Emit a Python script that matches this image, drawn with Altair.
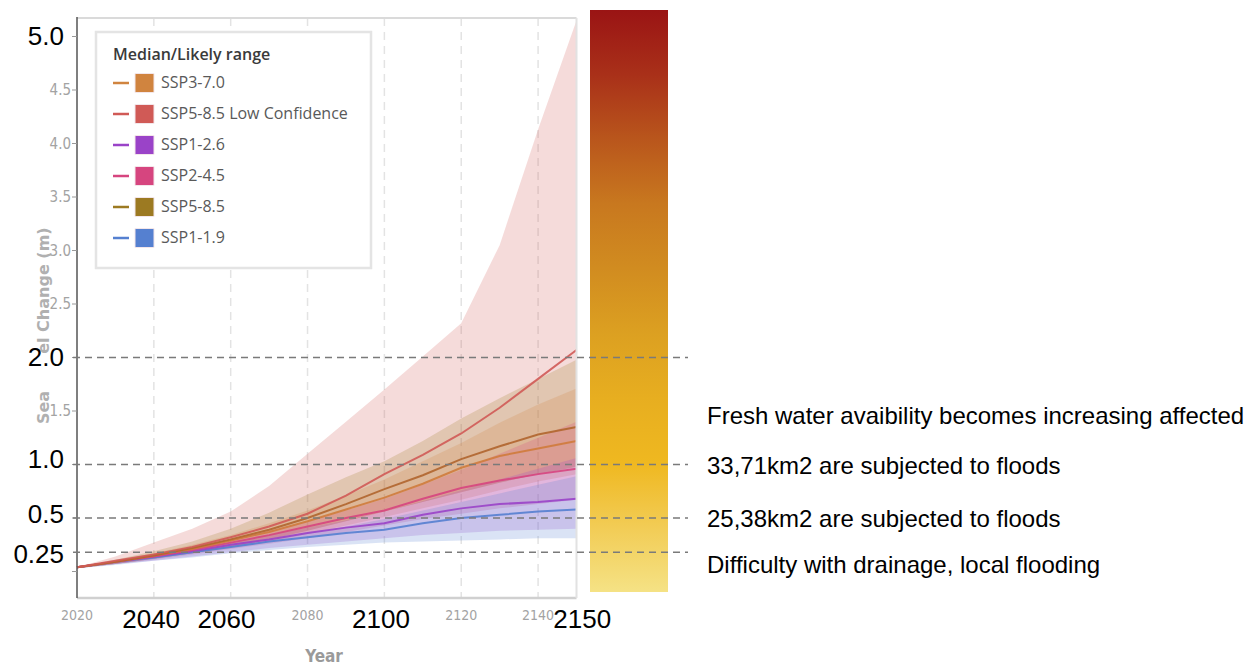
import altair as alt
import pandas as pd

# ---------------- data ----------------
years = [2020, 2030, 2040, 2050, 2060, 2070, 2080, 2090, 2100, 2110, 2120, 2130, 2140, 2150]

legend_names = ["SSP3-7.0", "SSP5-8.5 Low Confidence", "SSP1-2.6", "SSP2-4.5", "SSP5-8.5", "SSP1-1.9"]
legend_colors = ["#d0843f", "#d05a56", "#9a43c8", "#d6457f", "#9c7a22", "#5580d0"]

# medians (m)
med_ssp585lc = [0.04, 0.10, 0.16, 0.23, 0.32, 0.42, 0.54, 0.71, 0.91, 1.09, 1.29, 1.53, 1.80, 2.07]
med_ssp585 = [0.04, 0.09, 0.15, 0.22, 0.30, 0.39, 0.50, 0.63, 0.77, 0.90, 1.05, 1.17, 1.28, 1.35]
med_ssp370 = [0.04, 0.09, 0.15, 0.21, 0.29, 0.37, 0.47, 0.58, 0.69, 0.82, 0.97, 1.08, 1.15, 1.22]
med_ssp245 = [0.04, 0.09, 0.14, 0.20, 0.27, 0.34, 0.42, 0.50, 0.57, 0.68, 0.78, 0.85, 0.91, 0.96]
med_ssp126 = [0.04, 0.09, 0.14, 0.19, 0.25, 0.30, 0.36, 0.41, 0.45, 0.53, 0.59, 0.63, 0.65, 0.68]
med_ssp119 = [0.04, 0.09, 0.13, 0.18, 0.23, 0.28, 0.32, 0.36, 0.39, 0.45, 0.50, 0.53, 0.56, 0.58]

# likely ranges (m)
lo_ssp585lc = [0.03, 0.07, 0.12, 0.17, 0.23, 0.30, 0.38, 0.47, 0.56, 0.65, 0.74, 0.83, 0.91, 0.98]
hi_ssp585lc = [0.04, 0.14, 0.27, 0.40, 0.56, 0.80, 1.10, 1.40, 1.70, 2.01, 2.32, 3.05, 4.13, 5.15]
lo_ssp585 = [0.03, 0.07, 0.12, 0.17, 0.23, 0.30, 0.38, 0.47, 0.56, 0.65, 0.74, 0.83, 0.91, 0.98]
hi_ssp585 = [0.04, 0.11, 0.19, 0.28, 0.40, 0.55, 0.72, 0.88, 1.03, 1.22, 1.43, 1.62, 1.80, 1.98]
lo_ssp370 = [0.03, 0.07, 0.12, 0.17, 0.22, 0.28, 0.35, 0.43, 0.51, 0.59, 0.67, 0.76, 0.84, 0.91]
hi_ssp370 = [0.04, 0.10, 0.17, 0.25, 0.34, 0.45, 0.57, 0.71, 0.86, 1.03, 1.20, 1.39, 1.56, 1.71]
lo_ssp245 = [0.03, 0.07, 0.11, 0.16, 0.21, 0.26, 0.31, 0.37, 0.43, 0.49, 0.54, 0.59, 0.63, 0.67]
hi_ssp245 = [0.04, 0.10, 0.16, 0.22, 0.30, 0.38, 0.47, 0.57, 0.68, 0.81, 0.95, 1.10, 1.25, 1.40]
lo_ssp126 = [0.03, 0.07, 0.10, 0.14, 0.18, 0.22, 0.25, 0.28, 0.31, 0.34, 0.36, 0.38, 0.39, 0.40]
hi_ssp126 = [0.04, 0.09, 0.15, 0.21, 0.27, 0.34, 0.41, 0.48, 0.56, 0.66, 0.76, 0.86, 0.96, 1.06]
lo_ssp119 = [0.03, 0.06, 0.10, 0.13, 0.17, 0.20, 0.23, 0.25, 0.27, 0.28, 0.29, 0.30, 0.31, 0.31]
hi_ssp119 = [0.04, 0.09, 0.14, 0.19, 0.25, 0.30, 0.36, 0.42, 0.49, 0.57, 0.65, 0.73, 0.81, 0.89]

# axis tick labels
small_y_ticks = [1.5, 2.5, 3.0, 3.5, 4.0, 4.5]
small_y_labels = ["1.5", "2.5", "3.0", "3.5", "4.0", "4.5"]
all_y_ticks = [0.0, 0.5, 1.0, 1.5, 2.0, 2.5, 3.0, 3.5, 4.0, 4.5, 5.0]
small_x_ticks = [2020, 2080, 2120, 2140]
small_x_labels = ["2020", "2080", "2120", "2140"]
grid_years = [2040, 2060, 2080, 2100, 2120, 2140]

# overlay annotations
big_y_labels = ["5.0", "2.0", "1.0", "0.5", "0.25"]
big_y_label_levels = [5.0, 2.0, 1.04, 0.53, 0.15]
big_x_labels = ["2040", "2060", "2100", "2150"]
big_x_label_years = [2039.3, 2058.9, 2099.1, 2151.5]
threshold_levels = [2.0, 1.0, 0.5, 0.18]
notes = ["Fresh water avaibility becomes increasing affected",
         "33,71km2 are subjected to floods",
         "25,38km2 are subjected to floods",
         "Difficulty with drainage, local flooding"]
note_levels = [1.44, 0.98, 0.48, 0.05]
colorbar_stops = ["#9a1414", "#a93019", "#b9561c", "#c8781f", "#d18c20", "#dca021", "#e7ae20", "#efb820", "#f2cc55", "#f5e285"]

# ---------------- layout (pixel geometry -> data scales) ----------------
W, H = 1256, 665
PX_2020, PX_2150 = 77.0, 576.5
K = (PX_2150 - PX_2020) / 130.0
PX_ZERO, PX_PER_M = 571.5, 107.0


def vx(px):
    return 2020 + (px - PX_2020) / K


def vy(py):
    return (PX_ZERO - py) / PX_PER_M


XS = alt.Scale(domain=[vx(0), vx(W)], nice=False, zero=False)
YS = alt.Scale(domain=[vy(H), vy(0)], nice=False, zero=False)

ARIAL = "Liberation Sans, Arial, sans-serif"
NARROW = "Liberation Sans Narrow, DejaVu Sans Condensed, Arial Narrow, sans-serif"
OPEN = "Open Sans, Noto Sans, sans-serif"


def X(f):
    return alt.X(f, type="quantitative", scale=XS, axis=None)


def Y(f):
    return alt.Y(f, type="quantitative", scale=YS, axis=None)


def X2(f):
    return alt.X2(f)


def Y2(f):
    return alt.Y2(f)


layers = []

# gridlines (vertical dashed)
gdf = pd.DataFrame({"x": grid_years, "y": vy(18), "y2": vy(598)})
layers.append(alt.Chart(gdf).mark_rule(color="#e3e3e3", strokeWidth=1.5, strokeDash=[8, 6])
              .encode(x=X("x"), y=Y("y"), y2=Y2("y2")))

# likely range bands
band_specs = [
    ("SSP5-8.5 Low Confidence", lo_ssp585lc, hi_ssp585lc),
    ("SSP5-8.5", lo_ssp585, hi_ssp585),
    ("SSP3-7.0", lo_ssp370, hi_ssp370),
    ("SSP2-4.5", lo_ssp245, hi_ssp245),
    ("SSP1-2.6", lo_ssp126, hi_ssp126),
    ("SSP1-1.9", lo_ssp119, hi_ssp119),
]
cmap = dict(zip(legend_names, legend_colors))
for name, lo, hi in band_specs:
    df = pd.DataFrame({"year": years, "lo": lo, "hi": hi})
    layers.append(alt.Chart(df).mark_area(color=cmap[name], opacity=0.22)
                  .encode(x=X("year"), y=Y("lo"), y2=Y2("hi")))

# median lines
line_specs = [
    ("SSP1-1.9", med_ssp119),
    ("SSP1-2.6", med_ssp126),
    ("SSP2-4.5", med_ssp245),
    ("SSP3-7.0", med_ssp370),
    ("SSP5-8.5", med_ssp585),
    ("SSP5-8.5 Low Confidence", med_ssp585lc),
]
line_colors = {"SSP5-8.5": "#b0652e", "SSP3-7.0": "#cf7b3c"}
for name, med in line_specs:
    df = pd.DataFrame({"year": years, "v": med})
    layers.append(alt.Chart(df).mark_line(color=line_colors.get(name, cmap[name]), strokeWidth=2, opacity=0.9)
                  .encode(x=X("year"), y=Y("v")))

# frame
frame = pd.DataFrame({
    "x": [vx(77), vx(77), vx(576.5), vx(77)],
    "x2": [vx(576.5), vx(576.5), vx(576.5), vx(77)],
    "y": [vy(18), vy(598), vy(18), vy(17)],
    "y2": [vy(18), vy(598), vy(598), vy(598)],
    "c": ["#dadada", "#d0d0d0", "#e2e2e2", "#555555"],
    "w": [2.0, 2.5, 2.0, 1.5],
})
for i in range(len(frame)):
    r = frame.iloc[[i]]
    layers.append(alt.Chart(r).mark_rule(color=r["c"].iloc[0], strokeWidth=float(r["w"].iloc[0]))
                  .encode(x=X("x"), x2=X2("x2"), y=Y("y"), y2=Y2("y2")))

# y ticks
tdf = pd.DataFrame({"v": all_y_ticks, "x": vx(72), "x2": vx(77)})
layers.append(alt.Chart(tdf).mark_rule(color="#999999", strokeWidth=1)
              .encode(x=X("x"), x2=X2("x2"), y=Y("v")))

# axis titles
layers.append(alt.Chart(pd.DataFrame({"x": [vx(324)], "y": [vy(657)], "t": ["Year"]}))
              .mark_text(align="center", baseline="middle", font=NARROW, fontSize=17, fontWeight="bold",
                         color="#9a9a9a")
              .encode(x=X("x"), y=Y("y"), text="t:N"))
layers.append(alt.Chart(pd.DataFrame({"x": [vx(44)], "y": [vy(424)], "t": ["Sea Level Change (m)"]}))
              .mark_text(align="left", baseline="middle", font="DejaVu Sans", fontSize=16, fontWeight="bold",
                         color="#b0b0b0", angle=270)
              .encode(x=X("x"), y=Y("y"), text="t:N"))

# white mask behind the "2.0" overlay label
layers.append(alt.Chart(pd.DataFrame({"x": [vx(18)], "x2": [vx(56)], "y": [vy(353)], "y2": [vy(390)]}))
              .mark_rect(color="white")
              .encode(x=X("x"), x2=X2("x2"), y=Y("y"), y2=Y2("y2")))

# small y tick labels
sydf = pd.DataFrame({"v": small_y_ticks, "t": small_y_labels, "x": vx(71)})
layers.append(alt.Chart(sydf).mark_text(align="right", baseline="middle", font=NARROW, fontSize=15,
                                        color="#a3a3a3")
              .encode(x=X("x"), y=Y("v"), text="t:N"))

# small x tick labels
sxdf = pd.DataFrame({"x": small_x_ticks, "t": small_x_labels, "y": vy(616)})
layers.append(alt.Chart(sxdf).mark_text(align="center", baseline="middle", font=NARROW, fontSize=14,
                                        color="#a3a3a3")
              .encode(x=X("x"), y=Y("y"), text="t:N"))

# legend box
lb = pd.DataFrame({"x": [vx(96)], "x2": [vx(371)], "y": [vy(32)], "y2": [vy(268)]})
layers.append(alt.Chart(lb).mark_rect(fill="white", stroke="#e4e4e4", strokeWidth=2.5)
              .encode(x=X("x"), x2=X2("x2"), y=Y("y"), y2=Y2("y2")))
layers.append(alt.Chart(pd.DataFrame({"x": [vx(113)], "y": [vy(55)], "t": ["Median/Likely range"]}))
              .mark_text(align="left", baseline="middle", font=OPEN, fontSize=16, fontWeight=600,
                         color="#3a3a3a")
              .encode(x=X("x"), y=Y("y"), text="t:N"))
rows_px = [83 + 31 * i for i in range(len(legend_names))]
for name, col, py in zip(legend_names, legend_colors, rows_px):
    d = pd.DataFrame({"lx": [vx(113)], "lx2": [vx(129)], "ly": [vy(py)],
                      "sx": [vx(135)], "sx2": [vx(154)], "sy": [vy(py - 9.5)], "sy2": [vy(py + 9.5)],
                      "tx": [vx(161)], "t": [name]})
    layers.append(alt.Chart(d).mark_rule(color=col, strokeWidth=2.5)
                  .encode(x=X("lx"), x2=X2("lx2"), y=Y("ly")))
    layers.append(alt.Chart(d).mark_rect(color=col, stroke="#f3e6ea", strokeWidth=1)
                  .encode(x=X("sx"), x2=X2("sx2"), y=Y("sy"), y2=Y2("sy2")))
    layers.append(alt.Chart(d).mark_text(align="left", baseline="middle", font=OPEN, fontSize=16,
                                         color="#595959")
                  .encode(x=X("tx"), y=Y("ly"), text="t:N"))

# colour bar
grad = alt.LinearGradient(
    gradient="linear",
    stops=[alt.GradientStop(offset=i / (len(colorbar_stops) - 1), color=c) for i, c in enumerate(colorbar_stops)],
    x1=0, x2=0, y1=0, y2=1,
)
cb = pd.DataFrame({"x": [vx(590)], "x2": [vx(668)], "y": [vy(10)], "y2": [vy(592)]})
layers.append(alt.Chart(cb).mark_rect(fill=grad)
              .encode(x=X("x"), x2=X2("x2"), y=Y("y"), y2=Y2("y2")))

# threshold dashed lines
hdf = pd.DataFrame({"v": threshold_levels, "x": vx(73), "x2": vx(688)})
layers.append(alt.Chart(hdf).mark_rule(color="#7a7a7a", strokeWidth=1.5, strokeDash=[7, 5])
              .encode(x=X("x"), x2=X2("x2"), y=Y("v")))

# big overlay labels
bydf = pd.DataFrame({"v": big_y_label_levels, "t": big_y_labels, "x": vx(64)})
layers.append(alt.Chart(bydf).mark_text(align="right", baseline="middle", font=ARIAL, fontSize=26,
                                        color="#000000")
              .encode(x=X("x"), y=Y("v"), text="t:N"))
bxdf = pd.DataFrame({"x": big_x_label_years, "t": big_x_labels, "y": vy(620)})
layers.append(alt.Chart(bxdf).mark_text(align="center", baseline="middle", font=ARIAL, fontSize=26,
                                        color="#000000")
              .encode(x=X("x"), y=Y("y"), text="t:N"))

# notes
ndf = pd.DataFrame({"v": note_levels, "t": notes, "x": vx(707)})
layers.append(alt.Chart(ndf).mark_text(align="left", baseline="middle", font=ARIAL, fontSize=24,
                                       color="#000000")
              .encode(x=X("x"), y=Y("v"), text="t:N"))

chart = alt.layer(*layers).properties(
    width=W, height=H, padding=0, autosize=alt.AutoSizeParams(type="none"),
).configure_view(stroke=None)

chart.save("out.html", embed_options={"renderer": "svg", "actions": False})
